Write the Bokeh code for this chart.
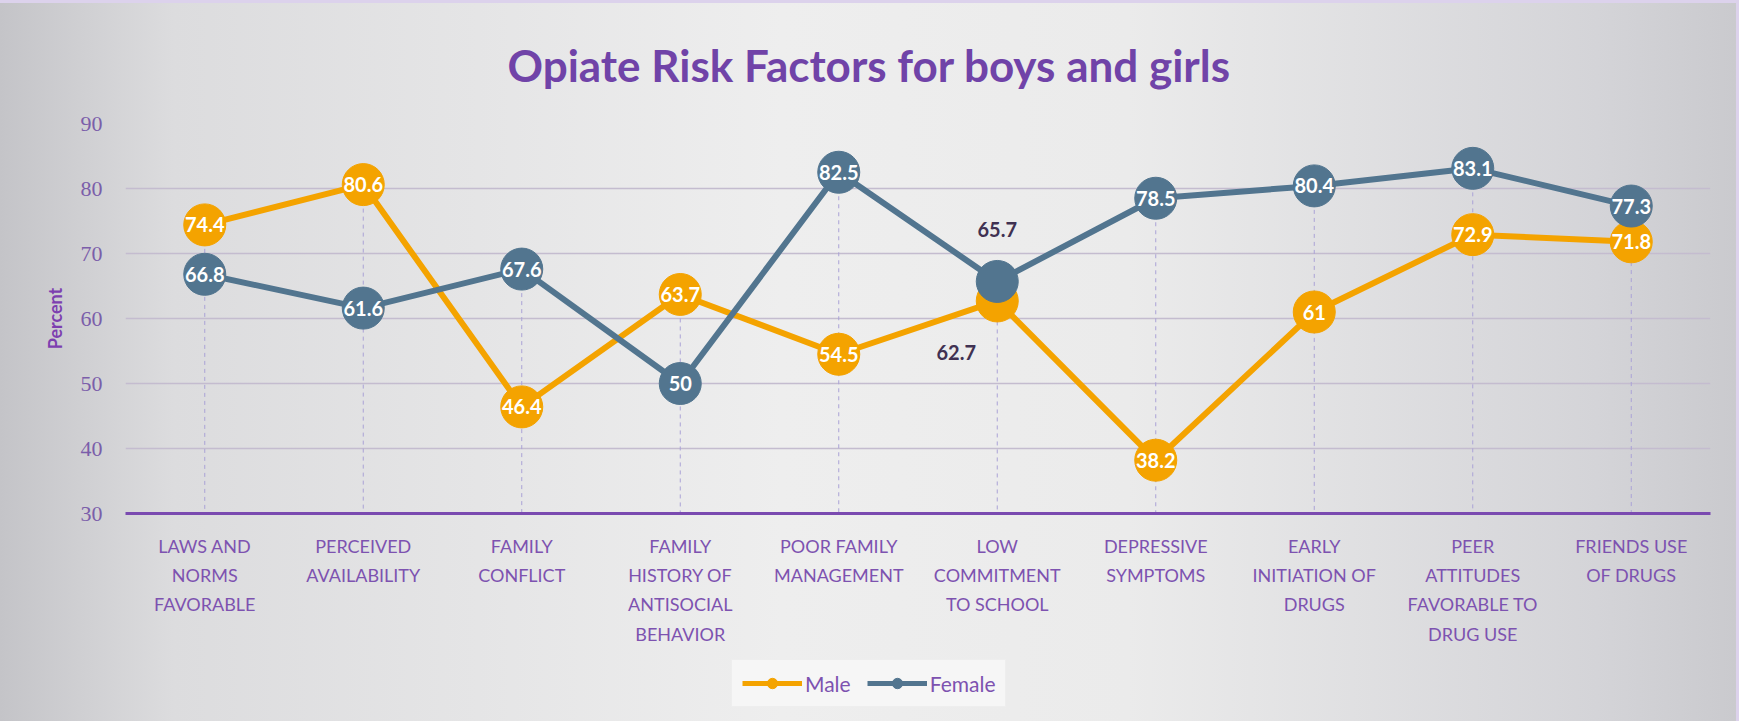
from bokeh.plotting import figure
from bokeh.models import FactorRange, FixedTicker, Legend, LegendItem, Range1d
from bokeh.layouts import column
from bokeh.core.properties import value
from bokeh.embed import file_html
from bokeh.resources import INLINE

title_text = "Opiate Risk Factors for boys and girls"
# category tick labels (line breaks as in the reference)
categories = [
    "LAWS AND\nNORMS\nFAVORABLE",
    "PERCEIVED\nAVAILABILITY",
    "FAMILY\nCONFLICT",
    "FAMILY\nHISTORY OF\nANTISOCIAL\nBEHAVIOR",
    "POOR FAMILY\nMANAGEMENT",
    "LOW\nCOMMITMENT\nTO SCHOOL",
    "DEPRESSIVE\nSYMPTOMS",
    "EARLY\nINITIATION OF\nDRUGS",
    "PEER\nATTITUDES\nFAVORABLE TO\nDRUG USE",
    "FRIENDS USE\nOF DRUGS",
]
male = [74.4, 80.6, 46.4, 63.7, 54.5, 62.7, 38.2, 61, 72.9, 71.8]
female = [66.8, 61.6, 67.6, 50, 82.5, 65.7, 78.5, 80.4, 83.1, 77.3]
y_ticks = [30, 40, 50, 60, 70, 80, 90]
series_names = ["Male", "Female"]

MALE_C = "#F4A300"
FEMALE_C = "#52758F"
PURPLE = "#7A4AB0"
TICK_PURPLE = "#7B5EAA"
LABEL_PURPLE = "#7D52B0"
DARK_LABEL = "#403152"
FONT = "Lato"

W = 1736
p = figure(
    width=W, height=645, x_range=FactorRange(*categories), y_range=(y_ticks[0], y_ticks[-1]),
    output_backend="svg", toolbar_location=None,
    min_border_left=125, min_border_right=26, min_border_top=111, min_border_bottom=135,
)
p.border_fill_alpha = 0
p.background_fill_alpha = 0
p.outline_line_color = None

# title
p.title.text = title_text
p.title.align = "left"
p.title.offset = 382
p.title.text_font = FONT
p.title.text_font_size = "44px"
p.title.text_font_style = "bold"
p.title.text_color = "#7043A8"
p.title.text_line_height = 0.8
p.title.standoff = 66

# axes
p.xaxis.major_label_text_font = FONT
p.xaxis.major_label_text_font_size = "18px"
p.xaxis.major_label_text_color = LABEL_PURPLE
p.xaxis.major_label_text_line_height = 1.34
p.xaxis.major_label_standoff = 15
p.xaxis.major_tick_line_color = None
p.xaxis.axis_line_color = PURPLE
p.xaxis.axis_line_width = 3

p.yaxis.ticker = FixedTicker(ticks=y_ticks)
p.yaxis.axis_line_color = None
p.yaxis.major_tick_line_color = None
p.yaxis.minor_tick_line_color = None
p.yaxis.major_label_text_font = "Liberation Serif"
p.yaxis.major_label_text_font_size = "22px"
p.yaxis.major_label_text_color = TICK_PURPLE
p.yaxis.major_label_standoff = 17
p.yaxis.axis_label = "Percent"
p.yaxis.axis_label_text_font = FONT
p.yaxis.axis_label_text_font_size = "18px"
p.yaxis.axis_label_text_font_style = "bold"
p.yaxis.axis_label_text_color = "#7D3FB0"
p.yaxis.axis_label_standoff = 12

p.xgrid.grid_line_color = None
p.ygrid.grid_line_color = "#c4bccf"
p.ygrid.grid_line_width = 1.5

# drop lines
tops = [max(m, f) for m, f in zip(male, female)]
p.segment(x0=categories, y0=tops, x1=categories, y1=[y_ticks[0]] * len(categories),
          line_color="#aaa2d6", line_width=1, line_dash="4 4")

# series
p.line(categories, male, line_color=MALE_C, line_width=6)
p.scatter(categories, male, size=42, fill_color=MALE_C, line_color=MALE_C)
p.line(categories, female, line_color=FEMALE_C, line_width=6)
p.scatter(categories, female, size=42, fill_color=FEMALE_C, line_color=FEMALE_C)

def fmt(v):
    return f"{v:g}"

special = 5
norm_idx = [i for i in range(len(categories)) if i != special]
for vals in (male, female):
    p.text(x=[categories[i] for i in norm_idx], y=[vals[i] for i in norm_idx],
           text=[fmt(vals[i]) for i in norm_idx],
           text_align="center", text_baseline="middle", text_color="white",
           text_font=value(FONT), text_font_style="bold", text_font_size="20px")

p.text(x=[categories[special]], y=[female[special]], text=[fmt(female[special])],
       y_offset=-52, text_align="center", text_baseline="middle", text_color=DARK_LABEL,
       text_font=value(FONT), text_font_style="bold", text_font_size="20px")
p.text(x=[categories[special]], y=[male[special]], text=[fmt(male[special])],
       x_offset=-41, y_offset=52, text_align="center", text_baseline="middle", text_color=DARK_LABEL,
       text_font=value(FONT), text_font_style="bold", text_font_size="20px")

# legend strip: a second figure whose range keeps its own copies of the series out of view
q = figure(
    width=W, height=73, x_range=FactorRange(*categories), y_range=Range1d(-20, -10),
    output_backend="svg", toolbar_location=None,
    min_border_left=125, min_border_right=26, min_border_top=0, min_border_bottom=0,
)
q.title.visible = False
q.title.text_font_size = "1px"
q.title.standoff = 0
q.axis.visible = False
q.grid.visible = False
q.outline_line_color = None
q.border_fill_alpha = 0
q.background_fill_alpha = 0
lm_l = q.line(categories, male, line_color=MALE_C, line_width=5)
lm_s = q.scatter(categories, male, size=11, fill_color=MALE_C, line_color=MALE_C)
lf_l = q.line(categories, female, line_color=FEMALE_C, line_width=5)
lf_s = q.scatter(categories, female, size=11, fill_color=FEMALE_C, line_color=FEMALE_C)
legend = Legend(
    items=[LegendItem(label=series_names[0], renderers=[lm_l, lm_s]),
           LegendItem(label=series_names[1], renderers=[lf_l, lf_s])],
    orientation="horizontal", location=(606, 14),
    label_text_font=FONT, label_text_font_size="21px", label_text_color=LABEL_PURPLE,
    background_fill_color="#f6f6f6", background_fill_alpha=1.0,
    border_line_color="#e6e6e6", border_line_width=1,
    glyph_width=60, glyph_height=26, label_height=26, label_standoff=3, spacing=16,
    padding=10, margin=0,
)
q.add_layout(legend, "center")

layout = column(p, q, spacing=0)
layout.styles = {
    "background": "linear-gradient(90deg, #c4c4c8 0%, #dcdcde 10%, #eeeeee 45%, #ebebeb 65%, #d4d4d8 92%, #cacace 100%)",
    "border-top": "3px solid #dcd2ec",
    "border-right": "3px solid #dcd2ec",
}

open("out.html", "w").write(file_html(layout, INLINE))
